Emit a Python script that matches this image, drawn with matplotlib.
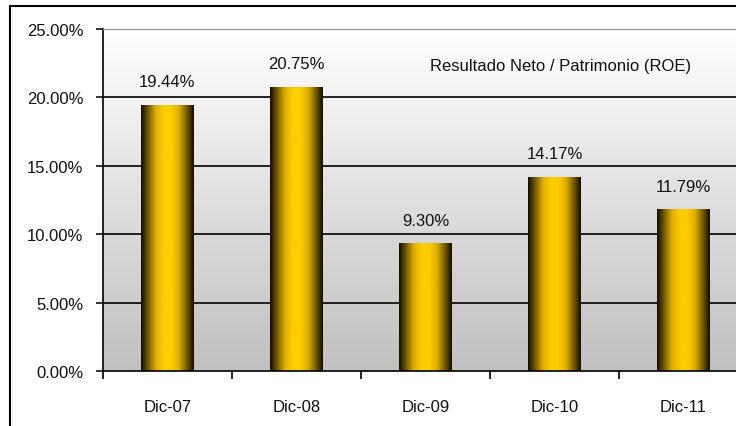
import numpy as np
import matplotlib.pyplot as plt
from matplotlib.colors import LinearSegmentedColormap
from matplotlib.patches import Rectangle

plt.rcParams['font.family'] = ['Liberation Sans', 'DejaVu Sans']

# Data
periods = ['Dic-07', 'Dic-08', 'Dic-09', 'Dic-10', 'Dic-11']
roe = [19.44, 20.75, 9.30, 14.17, 11.79]
title = 'Resultado Neto / Patrimonio (ROE)'

fig = plt.figure(figsize=(7.36, 4.27), dpi=100)
ax = fig.add_axes([103 / 736, 55 / 427, 645 / 736, 342 / 427])

x = np.arange(len(periods))
ax.set_xlim(-0.5, len(periods) - 0.5)
ax.set_ylim(0, 25)

# background gradient: light at top, gray at bottom
bg = LinearSegmentedColormap.from_list('bg', ['#c0c0c0', '#ffffff'])
ax.imshow(np.linspace(0, 1, 256).reshape(-1, 1), cmap=bg, aspect='auto',
          extent=[-0.5, len(periods) - 0.5, 0, 25], origin='lower', zorder=0)

# gridlines
for yv in [5, 10, 15, 20]:
    ax.axhline(yv, color='black', lw=1.2, zorder=1)

# bars with cylinder-like horizontal gradient
gold = LinearSegmentedColormap.from_list(
    'gold', ['#100c00', '#7a6000', '#e0b000', '#ffcc00', '#ffcc00', '#e0b000', '#7a6000', '#100c00'],
)
bars = ax.bar(x, roe, width=0.41, color='none', zorder=2)
grad = np.linspace(0, 1, 256).reshape(1, -1)
for b, v in zip(bars, roe):
    x0, w, h = b.get_x(), b.get_width(), b.get_height()
    ax.imshow(grad, cmap=gold, aspect='auto', extent=[x0, x0 + w, 0, h], zorder=2)
    ax.annotate(f'{v:.2f}%', (x0 + w / 2, h), xytext=(0, 13.5), textcoords='offset points',
                ha='center', va='baseline', fontsize=12, color='#111111')

ax.set_xlim(-0.5, len(periods) - 0.5)
ax.set_ylim(0, 25)

ax.text(0.71, 0.892, title, transform=ax.transAxes, ha='center', va='center',
        fontsize=12, color='#111111')

# axes styling
ax.set_yticks([0, 5, 10, 15, 20, 25])
ax.set_yticklabels([f'{t:.2f}%' for t in [0, 5, 10, 15, 20, 25]])
ax.set_xticks(x)
ax.set_xticklabels(periods)
ax.set_xticks(np.arange(-0.5, len(periods)), minor=True)
ax.tick_params(axis='x', which='major', length=0, pad=20, labelsize=12, colors='#111111')
ax.tick_params(axis='x', which='minor', length=6, width=1.2, direction='out')
ax.tick_params(axis='y', length=5, width=1.2, pad=9, labelsize=12, colors='#111111')
ax.spines['right'].set_visible(False)
ax.spines['top'].set_color('#909090')
ax.spines['left'].set_linewidth(1.2)
ax.spines['bottom'].set_linewidth(1.2)

# outer chart frame
fig.patches.append(Rectangle((9.5 / 736, -0.1), 1.0, (427 - 7) / 427 + 0.1,
                             transform=fig.transFigure, fill=False, ec='black', lw=1.5))

fig.savefig('out.png', dpi=100)
